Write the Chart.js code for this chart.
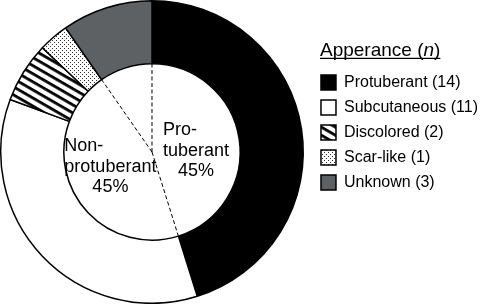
<!DOCTYPE html>
<html>
<head>
<meta charset="utf-8">
<script src="https://cdn.jsdelivr.net/npm/chart.js@4.4.0/dist/chart.umd.min.js"></script>
<style>
  html, body { margin: 0; background: #fff; overflow: hidden; }
  #chart { position: absolute; left: -8px; top: 0; }
</style>
</head>
<body>
<canvas id="chart" width="499" height="304"></canvas>
<script>
const FONT = '"Liberation Sans", Arial, Helvetica, sans-serif';

// outer ring: appearance categories
const categories = ["Protuberant", "Subcutaneous", "Discolored", "Scar-like", "Unknown"];
const counts = [14, 11, 2, 1, 3];

// inner pie: grouped appearance
const groupNames = ["Protuberant", "Non-protuberant", "Unknown"];
const groupCounts = [14, 14, 3];
const groupLines = [["Pro-", "tuberant"], ["Non-", "protuberant"], []];

const legendTitle = ["Apperance (", "n", ")"];

function stripePattern() {
  const c = document.createElement("canvas");
  c.width = 8; c.height = 7;
  const g = c.getContext("2d");
  g.fillStyle = "#fff"; g.fillRect(0, 0, 8, 7);
  g.fillStyle = "#000"; g.fillRect(0, 0, 8, 2.8);
  const p = g.createPattern(c, "repeat");
  p.setTransform(new DOMMatrix().rotate(30));
  return p;
}

function dotPattern() {
  const c = document.createElement("canvas");
  c.width = 4; c.height = 4;
  const g = c.getContext("2d");
  g.fillStyle = "#fff"; g.fillRect(0, 0, 4, 4);
  g.fillStyle = "#333";
  g.fillRect(0, 0, 1, 1);
  g.fillRect(2, 2, 1, 1);
  return g.createPattern(c, "repeat");
}

const fills = ["#000", "#fff", stripePattern(), dotPattern(), "#5e6163"];

// dashed dividers + labels in the inner pie
const innerPie = {
  id: "innerPie",
  afterDatasetsDraw(chart) {
    const meta = chart.getDatasetMeta(1);
    const g = chart.ctx;
    const total = groupCounts.reduce((a, b) => a + b, 0);
    g.save();
    g.strokeStyle = "#000";
    g.lineWidth = 1;
    g.setLineDash([4, 2.5]);
    meta.data.forEach((arc) => {
      const { x, y, startAngle, outerRadius } = arc.getProps(["x", "y", "startAngle", "outerRadius"], true);
      g.beginPath();
      g.moveTo(x, y);
      g.lineTo(x + outerRadius * Math.cos(startAngle), y + outerRadius * Math.sin(startAngle));
      g.stroke();
    });
    g.setLineDash([]);

    g.font = "18px " + FONT;
    g.fillStyle = "#000";
    g.textBaseline = "middle";
    const lh = 20.5;
    meta.data.forEach((arc, i) => {
      const lines = groupLines[i];
      if (!lines.length) return;
      const { x, y, startAngle, endAngle, outerRadius } =
        arc.getProps(["x", "y", "startAngle", "endAngle", "outerRadius"], true);
      const a = (startAngle + endAngle) / 2 + 0.12;
      const cx = x + Math.cos(a) * outerRadius * 0.5;
      const cy = y + Math.sin(a) * outerRadius * 0.5;
      const pct = Math.round((groupCounts[i] / total) * 100) + "%";
      const y0 = cy - (lines.length * lh) / 2;
      const w = Math.max(...lines.map((l) => g.measureText(l).width));
      g.textAlign = "left";
      lines.forEach((l, j) => g.fillText(l, cx - w / 2, y0 + j * lh));
      g.textAlign = "center";
      g.fillText(pct, cx, y0 + lines.length * lh);
    });
    g.restore();
  },
};

// legend title with italic n and underline
const legendHeading = {
  id: "legendHeading",
  afterDraw(chart) {
    const hb = chart.legend.legendHitBoxes[0];
    if (!hb) return;
    const g = chart.ctx;
    let x = hb.left - 1;
    const y = hb.top - 19;
    g.save();
    g.fillStyle = "#000";
    g.textBaseline = "alphabetic";
    g.textAlign = "left";
    const x0 = x;
    legendTitle.forEach((part, i) => {
      g.font = (i === 1 ? "italic " : "") + "19px " + FONT;
      g.fillText(part, x, y);
      x += g.measureText(part).width;
    });
    g.strokeStyle = "#000";
    g.lineWidth = 1.2;
    g.beginPath();
    g.moveTo(x0, y + 2.8);
    g.lineTo(x, y + 2.8);
    g.stroke();
    g.restore();
  },
};

new Chart(document.getElementById("chart"), {
  type: "doughnut",
  data: {
    labels: categories.map((c, i) => `${c} (${counts[i]})`),
    datasets: [
      {
        label: "Appearance",
        data: counts,
        backgroundColor: fills,
        borderColor: "#000",
        borderWidth: 1.5,
        weight: 63,
      },
      {
        label: "Group",
        data: groupCounts,
        backgroundColor: "#fff",
        borderWidth: 0,
        weight: 88,
      },
    ],
  },
  options: {
    responsive: false,
    animation: false,
    cutout: 0,
    layout: { padding: { left: 0, right: 3, top: 0, bottom: 0 } },
    plugins: {
      tooltip: { enabled: false },
      legend: {
        position: "right",
        align: "start",
        title: {
          display: true,
          text: legendTitle.join(""),
          color: "rgba(0,0,0,0)",
          font: { size: 19, family: FONT },
          padding: { top: 32, bottom: 10.7 },
        },
        labels: {
          boxWidth: 15,
          boxHeight: 15,
          padding: 9,
          color: "#000",
          font: { size: 16, family: FONT },
        },
      },
    },
  },
  plugins: [innerPie, legendHeading],
});
</script>
</body>
</html>
